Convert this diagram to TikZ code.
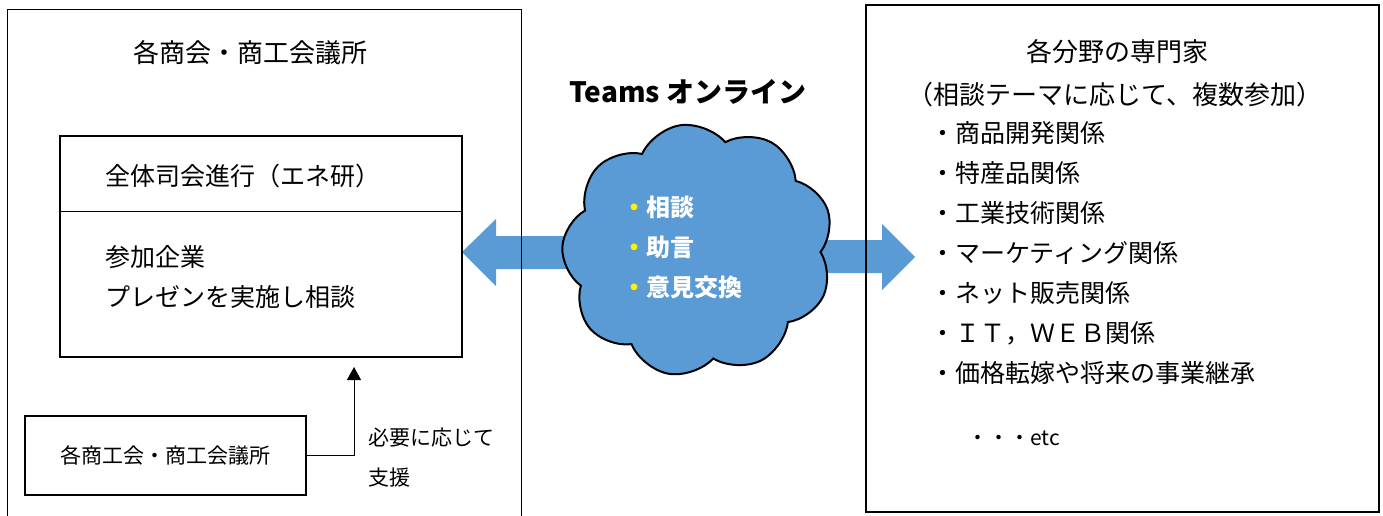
\documentclass[tikz,border=0pt]{standalone}
\usepackage{fontspec}
\setmainfont{Noto Sans CJK JP}
\usetikzlibrary{shapes.symbols, arrows.meta, positioning}
\definecolor{teamsBlue}{HTML}{5B9BD5}
\tikzstyle{frameBox} = [shape=rectangle, draw=black, line width=1.6pt, inner sep=0pt]
\tikzstyle{innerBox} = [frameBox, line width=2.2pt]
\tikzstyle{titleText} = [font=\fontsize{26}{30}\selectfont, inner sep=0pt]
\tikzstyle{bodyText} = [font=\fontsize{25}{40}\selectfont, align=left, inner sep=0pt, anchor=west]
\tikzstyle{smallText} = [font=\fontsize{21}{40}\selectfont, align=left, inner sep=0pt, anchor=west]
\tikzstyle{cloudText} = [font=\bfseries\fontsize{24}{40}\selectfont, text=white, align=left,
	inner sep=0pt, anchor=west]
\tikzstyle{blockArrow} = [fill=teamsBlue]

\begin{document}
\begin{tikzpicture}[x=1pt, y=-1pt]
  \useasboundingbox (0,0) rectangle (1383,515);

  % block arrows, under the cloud
  \fill[blockArrow] (462,252) -- (496,219) -- (496,236) -- (640,236) -- (640,269) -- (496,269) -- (496,286) -- cycle;
  \fill[blockArrow] (915,257) -- (882,224) -- (882,240) -- (760,240) -- (760,273) -- (882,273) -- (882,290) -- cycle;

  \node (CLD) [cloud, cloud puffs=9, cloud puff arc=115, draw=black, line width=2pt, fill=teamsBlue,
    minimum width=272pt, minimum height=252pt, inner sep=0pt, rotate=8] at (698,250) {};
  \node (TOPIC) [cloudText] at (622,247) {{\color{yellow}・}相談\\{\color{yellow}・}助言\\{\color{yellow}・}意見交換};
  \node (TEAMS) [font=\bfseries\fontsize{28}{30}\selectfont, inner sep=0pt] at (688,92) {Teams オンライン};

  % left side
  \node (HOST) [frameBox, minimum width=514pt, minimum height=521pt] at (264.5,270) {};
  \node (HOSTT) [titleText] at (250,53) {各商会・商工会議所};
  \node (MEET) [innerBox, minimum width=402pt, minimum height=221pt] at (261,246.5) {};
  \coordinate (DIV) at (0,211);
  \draw[line width=0.8pt] (MEET.west |- DIV) -- (MEET.east |- DIV);
  \node (CHAIR) [bodyText] at (105,176) {全体司会進行（エネ研）};
  \node (PRES) [bodyText] at (105,277) {参加企業\\プレゼンを実施し相談};

  \node (SUB) [innerBox, minimum width=281pt, minimum height=79pt, font=\fontsize{21}{25}\selectfont] at (165.5,455.5) {各商工会・商工会議所};
  \coordinate (TIP) at (354,367);
  \draw[line width=1pt, -{Triangle[width=14pt,length=13pt]}] (SUB.east) -| (TIP);
  \node (HELP) [smallText] at (368,458) {必要に応じて\\支援};

  % right side
  \node (EXP) [frameBox, minimum width=513pt, minimum height=507pt] at (1122.5,258.5) {};
  \node (EXPT) [titleText] at (1117,52) {各分野の専門家};
  \node (EXPS) [titleText] at (1115,95) {（相談テーマに応じて、複数参加）};
  \node (LIST) [bodyText] at (930,253) {・商品開発関係\\・特産品関係\\・工業技術関係\\・マーケティング関係\\・ネット販売関係\\・ＩＴ，ＷＥＢ関係\\・価格転嫁や将来の事業継承};
  \node (ETC) [smallText] at (967,438) {・・・etc};

\end{tikzpicture}
\end{document}
